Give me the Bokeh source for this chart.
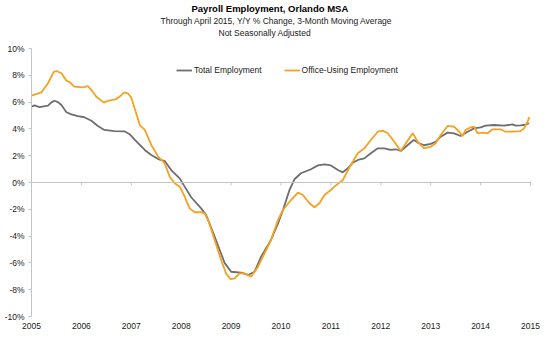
from bokeh.plotting import figure
from bokeh.models import (Span, Title, Legend, LegendItem, FixedTicker,
                          PrintfTickFormatter, Range1d, LinearAxis)
from bokeh.embed import file_html
from bokeh.resources import INLINE

# ---------------- data ----------------
title_text = "Payroll Employment, Orlando MSA"
subtitle_1 = "Through April 2015, Y/Y % Change, 3-Month Moving Average"
subtitle_2 = "Not Seasonally Adjusted"

year_ticks = [2005, 2006, 2007, 2008, 2009, 2010, 2011, 2012, 2013, 2014, 2015]
pct_ticks = [-10, -8, -6, -4, -2, 0, 2, 4, 6, 8, 10]

x_total = [2005.00, 2005.06, 2005.16, 2005.33, 2005.40, 2005.46, 2005.53, 2005.60,
           2005.70, 2005.80, 2005.93, 2006.06, 2006.20, 2006.33, 2006.46, 2006.66,
           2006.86, 2006.96, 2007.12, 2007.27, 2007.40, 2007.54, 2007.67, 2007.80,
           2007.97, 2008.07, 2008.20, 2008.40, 2008.50, 2008.67, 2008.87, 2009.00,
           2009.20, 2009.34, 2009.47, 2009.60, 2009.80, 2009.94, 2010.04, 2010.17,
           2010.27, 2010.40, 2010.60, 2010.74, 2010.87, 2011.00, 2011.14, 2011.24,
           2011.34, 2011.44, 2011.54, 2011.67, 2011.80, 2011.94, 2012.07, 2012.20,
           2012.30, 2012.40, 2012.54, 2012.66, 2012.77, 2012.87, 2013.00, 2013.10,
           2013.20, 2013.34, 2013.47, 2013.60, 2013.74, 2013.87, 2014.00, 2014.10,
           2014.27, 2014.47, 2014.64, 2014.70, 2014.80, 2014.90, 2014.97]
total_emp = [5.66, 5.76, 5.63, 5.73, 5.98, 6.10, 6.00, 5.78,
             5.24, 5.09, 4.96, 4.87, 4.61, 4.22, 3.92, 3.84,
             3.82, 3.62, 3.00, 2.43, 2.05, 1.75, 1.60, 0.93,
             0.31, -0.31, -1.10, -1.93, -2.43, -4.04, -6.00, -6.66,
             -6.73, -6.90, -6.66, -5.54, -4.29, -3.05, -2.05, -0.56,
             0.24, 0.69, 0.99, 1.28, 1.35, 1.27, 0.93, 0.76,
             1.06, 1.48, 1.68, 1.80, 2.18, 2.55, 2.55, 2.43,
             2.48, 2.35, 2.80, 3.17, 2.92, 2.78, 2.88, 3.04,
             3.42, 3.72, 3.67, 3.47, 3.79, 4.04, 4.12, 4.24,
             4.29, 4.24, 4.34, 4.24, 4.27, 4.31, 4.42]

x_office = [2005.00, 2005.20, 2005.33, 2005.38, 2005.45, 2005.50, 2005.60, 2005.70,
            2005.76, 2005.86, 2006.03, 2006.13, 2006.20, 2006.30, 2006.45, 2006.53,
            2006.70, 2006.78, 2006.86, 2006.93, 2007.00, 2007.12, 2007.17, 2007.27,
            2007.40, 2007.54, 2007.67, 2007.77, 2007.87, 2007.97, 2008.07, 2008.17,
            2008.27, 2008.40, 2008.47, 2008.54, 2008.67, 2008.80, 2008.90, 2008.99,
            2009.07, 2009.17, 2009.27, 2009.40, 2009.54, 2009.67, 2009.80, 2009.94,
            2010.04, 2010.20, 2010.34, 2010.44, 2010.57, 2010.67, 2010.77, 2010.87,
            2011.00, 2011.07, 2011.24, 2011.40, 2011.54, 2011.67, 2011.80, 2011.94,
            2012.04, 2012.14, 2012.27, 2012.40, 2012.50, 2012.64, 2012.74, 2012.87,
            2013.00, 2013.10, 2013.20, 2013.34, 2013.47, 2013.57, 2013.64, 2013.70,
            2013.80, 2013.87, 2013.94, 2014.04, 2014.14, 2014.24, 2014.40, 2014.50,
            2014.64, 2014.80, 2014.87, 2014.94, 2014.98]
office_emp = [6.48, 6.73, 7.40, 7.78, 8.27, 8.32, 8.15, 7.60,
              7.50, 7.15, 7.10, 7.20, 6.90, 6.40, 5.96, 6.10,
              6.23, 6.45, 6.73, 6.66, 6.33, 4.90, 4.29, 3.92,
              2.80, 1.93, 1.43, 0.43, -0.06, -0.31, -1.06, -1.93,
              -2.22, -2.22, -2.30, -2.80, -4.29, -5.78, -6.78, -7.22,
              -7.15, -6.78, -6.78, -7.03, -6.28, -5.28, -4.29, -2.80,
              -2.05, -1.31, -0.76, -0.93, -1.55, -1.85, -1.55, -0.93,
              -0.56, -0.31, 0.19, 1.31, 2.18, 2.55, 3.17, 3.79,
              3.87, 3.67, 3.04, 2.35, 2.92, 3.67, 3.04, 2.55,
              2.67, 2.92, 3.54, 4.22, 4.16, 3.79, 3.47, 3.92,
              4.12, 4.16, 3.67, 3.72, 3.67, 3.97, 3.97, 3.79,
              3.79, 3.84, 4.04, 4.54, 4.87]

series_names = ["Total Employment", "Office-Using Employment"]

# ---------------- styling ----------------
FONT = "Liberation Sans"
GREY = "#6e6e70"
ORANGE = "#f4a21f"
AXIS_GREY = "#c4c4c4"
TEXT = "#1a1a1a"

p = figure(width=556, height=361, output_backend="svg", toolbar_location=None,
           title=None,
           x_range=Range1d(2005, 2015.02), y_range=Range1d(-10, 10),
           min_border_left=31, min_border_right=25, min_border_top=48,
           min_border_bottom=45)
p.outline_line_color = None
p.xgrid.visible = False
p.ygrid.visible = False
p.background_fill_color = "white"

# y axis
p.yaxis.ticker = FixedTicker(ticks=pct_ticks)
p.yaxis.formatter = PrintfTickFormatter(format="%d%%")
p.yaxis.axis_line_color = AXIS_GREY
p.yaxis.major_tick_line_color = AXIS_GREY
p.yaxis.major_tick_out = 3
p.yaxis.major_tick_in = 0
p.yaxis.minor_tick_line_color = None
p.yaxis.major_label_standoff = 4
p.yaxis.major_label_text_font = FONT
p.yaxis.major_label_text_font_size = "8.5px"
p.yaxis.major_label_text_color = TEXT

# x axis (labels only, at the bottom)
p.xaxis.ticker = FixedTicker(ticks=year_ticks)
p.xaxis.axis_line_color = None
p.xaxis.major_tick_line_color = None
p.xaxis.major_tick_out = 0
p.xaxis.major_tick_in = 0
p.xaxis.minor_tick_line_color = None
p.xaxis.major_label_standoff = 6
p.xaxis.major_label_text_font = FONT
p.xaxis.major_label_text_font_size = "8.5px"
p.xaxis.major_label_text_color = TEXT

# invisible spacer between titles and plot area: one white tick, empty label
spacer = LinearAxis(ticker=FixedTicker(ticks=[year_ticks[0]]), axis_line_color=None,
                    major_tick_line_color="white", minor_tick_line_color=None,
                    major_tick_out=11, major_tick_in=0, minor_tick_out=0,
                    major_label_standoff=0, major_label_text_font_size="1px",
                    major_label_overrides={year_ticks[0]: ""})
p.add_layout(spacer, "above")

# zero line with ticks hanging below
p.add_layout(Span(location=0, dimension="width", line_color=AXIS_GREY, line_width=1))
p.segment(x0=year_ticks, y0=[0] * len(year_ticks), x1=year_ticks,
          y1=[-0.22] * len(year_ticks), line_color=AXIS_GREY, line_width=1)

r_total = p.line(x_total, total_emp, line_color=GREY, line_width=1.8)
r_office = p.line(x_office, office_emp, line_color=ORANGE, line_width=1.8)

legend = Legend(items=[LegendItem(label=series_names[0], renderers=[r_total]),
                       LegendItem(label=series_names[1], renderers=[r_office])],
                location=(145, 241), orientation="horizontal",
                padding=0, margin=0, spacing=22, label_standoff=2,
                glyph_width=16, glyph_height=10, label_height=10,
                label_text_font=FONT, label_text_font_size="8.5px",
                label_text_color=TEXT, border_line_color=None,
                background_fill_alpha=0)
p.add_layout(legend)

# titles: first added sits closest to the plot
p.add_layout(Title(text=subtitle_2, text_font=FONT, text_font_size="8.5px",
                   text_font_style="normal", text_color=TEXT,
                   align="left", offset=187, standoff=0), "above")
p.add_layout(Title(text=subtitle_1, text_font=FONT, text_font_size="8.5px",
                   text_font_style="normal", text_color=TEXT,
                   align="left", offset=129, standoff=0), "above")
p.add_layout(Title(text=title_text, text_font=FONT, text_font_size="9.5px",
                   text_font_style="bold", text_color="#000000",
                   align="left", offset=160, standoff=0), "above")

open("out.html", "w").write(file_html(p, INLINE))
